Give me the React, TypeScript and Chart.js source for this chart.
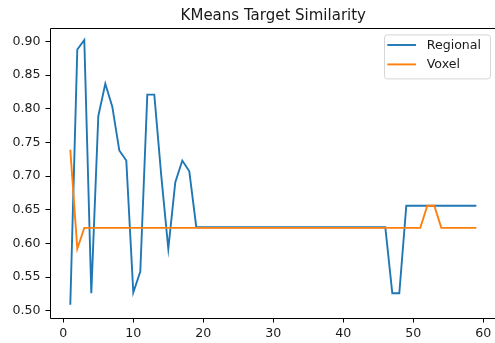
import React, { useEffect, useRef } from "react";
import { Chart, registerables } from "chart.js";

Chart.register(...registerables);

const TITLE = "KMeans Target Similarity";
const SERIES_NAMES = ["Regional", "Voxel"];

const X_VALUES = [
  1, 2, 3, 4, 5, 6, 7, 8, 9, 10, 11, 12, 13, 14, 15, 16, 17, 18, 19, 20,
  21, 22, 23, 24, 25, 26, 27, 28, 29, 30, 31, 32, 33, 34, 35, 36, 37, 38, 39, 40,
  41, 42, 43, 44, 45, 46, 47, 48, 49, 50, 51, 52, 53, 54, 55, 56, 57, 58, 59,
];

const REGIONAL = [
  0.509, 0.888, 0.902, 0.526, 0.789, 0.837, 0.803, 0.738, 0.723, 0.527,
  0.558, 0.821, 0.821, 0.700, 0.592, 0.691, 0.723, 0.707, 0.624, 0.624,
  0.624, 0.624, 0.624, 0.624, 0.624, 0.624, 0.624, 0.624, 0.624, 0.624,
  0.624, 0.624, 0.624, 0.624, 0.624, 0.624, 0.624, 0.624, 0.624, 0.624,
  0.624, 0.624, 0.624, 0.624, 0.624, 0.624, 0.526, 0.526, 0.656, 0.656,
  0.656, 0.656, 0.656, 0.656, 0.656, 0.656, 0.656, 0.656, 0.656,
];

const VOXEL = [
  0.739, 0.592, 0.623, 0.623, 0.623, 0.623, 0.623, 0.623, 0.623, 0.623,
  0.623, 0.623, 0.623, 0.623, 0.623, 0.623, 0.623, 0.623, 0.623, 0.623,
  0.623, 0.623, 0.623, 0.623, 0.623, 0.623, 0.623, 0.623, 0.623, 0.623,
  0.623, 0.623, 0.623, 0.623, 0.623, 0.623, 0.623, 0.623, 0.623, 0.623,
  0.623, 0.623, 0.623, 0.623, 0.623, 0.623, 0.623, 0.623, 0.623, 0.623,
  0.623, 0.656, 0.656, 0.623, 0.623, 0.623, 0.623, 0.623, 0.623,
];

const X_TICKS = [0, 10, 20, 30, 40, 50, 60];
const Y_TICKS = [0.5, 0.55, 0.6, 0.65, 0.7, 0.75, 0.8, 0.85, 0.9];
const X_LIMITS = [-1.9, 61.9];
const Y_LIMITS = [0.4892, 0.9199];

const COLORS = ["#1f77b4", "#ff7f0e"];
const FONT = "DejaVu Sans";
const TEXT_COLOR = "#1a1a1a";

const decorPlugin = {
  id: "decor",
  afterDatasetsDraw(chart: any) {
    const { ctx, chartArea: a } = chart;
    ctx.save();
    // spines
    ctx.strokeStyle = "#000";
    ctx.lineWidth = 1;
    const l = Math.floor(a.left) + 0.5;
    const r = Math.floor(a.right) + 0.5;
    const t = Math.floor(a.top) + 0.5;
    const b = Math.floor(a.bottom) + 0.5;
    ctx.beginPath();
    ctx.moveTo(l, b);
    ctx.lineTo(l, t);
    ctx.lineTo(r, t);
    ctx.lineTo(r, b);
    ctx.lineTo(l, b);
    ctx.stroke();

    // title
    ctx.fillStyle = TEXT_COLOR;
    ctx.font = `15px "${FONT}"`;
    ctx.textAlign = "center";
    ctx.textBaseline = "alphabetic";
    ctx.fillText(TITLE, (a.left + a.right) / 2, a.top - 8);

    // legend
    const bw = 106;
    const bh = 44;
    const bx = a.right - 6.6 - bw;
    const by = a.top + 6.4;
    ctx.beginPath();
    if ((ctx as any).roundRect) {
      (ctx as any).roundRect(bx + 0.5, by + 0.5, bw, bh, 3);
    } else {
      ctx.rect(bx + 0.5, by + 0.5, bw, bh);
    }
    ctx.fillStyle = "rgba(255,255,255,0.8)";
    ctx.fill();
    ctx.strokeStyle = "rgba(204,204,204,0.8)";
    ctx.lineWidth = 1;
    ctx.stroke();

    ctx.font = `12.6px "${FONT}"`;
    ctx.textAlign = "left";
    ctx.textBaseline = "middle";
    SERIES_NAMES.forEach((name, i) => {
      const y = by + 10.6 + i * 19.4;
      ctx.strokeStyle = COLORS[i];
      ctx.lineWidth = 1.9;
      ctx.beginPath();
      ctx.moveTo(bx + 3.3, y);
      ctx.lineTo(bx + 32, y);
      ctx.stroke();
      ctx.fillStyle = TEXT_COLOR;
      ctx.fillText(name, bx + 42.7, y + 0.5);
    });
    ctx.restore();
  },
};

export default function App() {
  const ref = useRef<HTMLCanvasElement | null>(null);

  useEffect(() => {
    if (!ref.current) return;
    const series = [REGIONAL, VOXEL];
    const chart = new Chart(ref.current, {
      type: "line",
      data: {
        datasets: series.map((vals, i) => ({
          label: SERIES_NAMES[i],
          data: X_VALUES.map((x, j) => ({ x, y: vals[j] })),
          borderColor: COLORS[i],
          backgroundColor: COLORS[i],
          borderWidth: 1.9,
          pointRadius: 0,
          pointHoverRadius: 0,
          tension: 0,
          fill: false,
          order: i === 0 ? 2 : 1,
        })),
      },
      options: {
        animation: false,
        responsive: false,
        devicePixelRatio: 1,
        layout: { padding: { top: 28, right: 5.4, left: 0, bottom: 0 } },
        plugins: {
          legend: { display: false },
          title: { display: false },
          tooltip: { enabled: false },
        },
        scales: {
          x: {
            type: "linear",
            min: X_LIMITS[0],
            max: X_LIMITS[1],
            afterBuildTicks: (s: any) => {
              s.ticks = X_TICKS.map((v) => ({ value: v }));
            },
            afterFit: (s: any) => {
              s.height = 25;
            },
            grid: {
              display: true,
              drawOnChartArea: false,
              drawTicks: true,
              tickLength: 4.5,
              color: "#000",
              lineWidth: 1,
            },
            border: { display: false },
            ticks: {
              autoSkip: false,
              maxRotation: 0,
              padding: 4,
              color: TEXT_COLOR,
              font: { family: FONT, size: 12.6 },
              callback: (v: any) => String(v),
            },
          },
          y: {
            type: "linear",
            min: Y_LIMITS[0],
            max: Y_LIMITS[1],
            afterBuildTicks: (s: any) => {
              s.ticks = Y_TICKS.map((v) => ({ value: v }));
            },
            afterFit: (s: any) => {
              s.width = 50;
            },
            grid: {
              display: true,
              drawOnChartArea: false,
              drawTicks: true,
              tickLength: 4.5,
              color: "#000",
              lineWidth: 1,
            },
            border: { display: false },
            ticks: {
              autoSkip: false,
              padding: 5,
              color: TEXT_COLOR,
              font: { family: FONT, size: 12.6 },
              callback: (v: any) => Number(v).toFixed(2),
            },
          },
        },
      },
      plugins: [decorPlugin],
    });
    return () => chart.destroy();
  }, []);

  return (
    <div
      style={{
        position: "absolute",
        left: 0,
        top: 0,
        width: 495,
        height: 343,
        overflow: "hidden",
        background: "#fff",
      }}
    >
      <canvas ref={ref} width={502} height={343} style={{ width: 502, height: 343, display: "block" }} />
    </div>
  );
}
